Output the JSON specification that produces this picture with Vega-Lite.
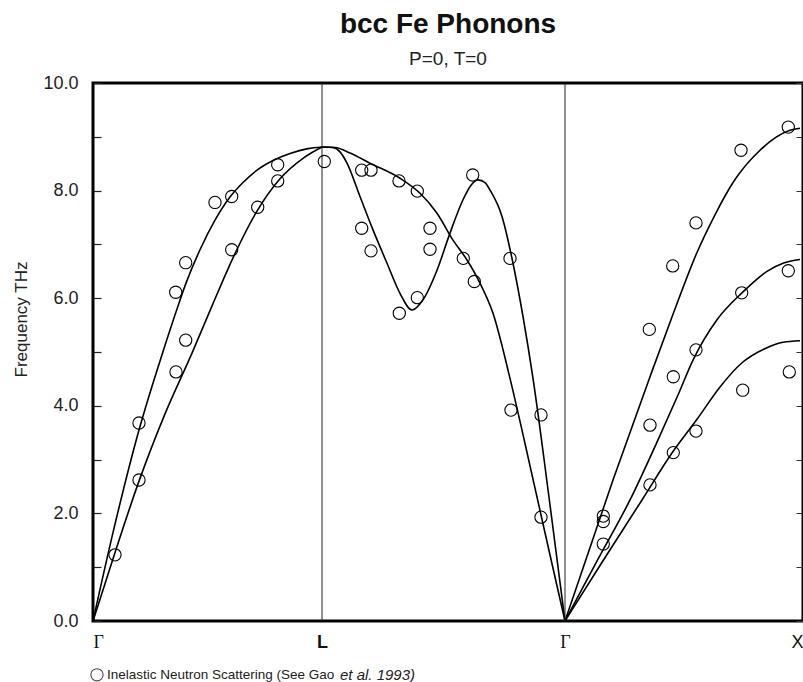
{
  "$schema": "https://vega.github.io/schema/vega-lite/v6.json",
  "width": 710,
  "height": 538,
  "autosize": {"type": "none"},
  "padding": {"left": 93, "top": 83, "right": 0, "bottom": 61},
  "background": "white",
  "config": {"view": {"stroke": "black", "strokeWidth": 3}, "font": "Liberation Sans"},
  "title": {
    "text": "bcc Fe Phonons",
    "subtitle": "P=0, T=0",
    "anchor": "middle",
    "frame": "group",
    "font": "Liberation Sans",
    "fontSize": 28,
    "fontWeight": "bold",
    "color": "#111",
    "subtitleFont": "Liberation Sans",
    "subtitleFontSize": 19,
    "subtitleColor": "#222",
    "subtitlePadding": 11,
    "offset": 5
  },
  "datasets": {
    "curves": [
      {"branch": "GL-T", "k": 0, "freq": 0}, {"branch": "GL-T", "k": 22, "freq": 1.8}, {"branch": "GL-T", "k": 46, "freq": 3.55}, {"branch": "GL-T", "k": 69, "freq": 4.95}, {"branch": "GL-T", "k": 84, "freq": 5.8}, {"branch": "GL-T", "k": 93, "freq": 6.28}, {"branch": "GL-T", "k": 107, "freq": 6.9}, {"branch": "GL-T", "k": 122, "freq": 7.45}, {"branch": "GL-T", "k": 137, "freq": 7.88}, {"branch": "GL-T", "k": 150, "freq": 8.15}, {"branch": "GL-T", "k": 164, "freq": 8.38}, {"branch": "GL-T", "k": 180, "freq": 8.56}, {"branch": "GL-T", "k": 197, "freq": 8.69}, {"branch": "GL-T", "k": 215, "freq": 8.78}, {"branch": "GL-T", "k": 229, "freq": 8.81},
      {"branch": "GL-L", "k": 0, "freq": 0}, {"branch": "GL-L", "k": 23, "freq": 1.33}, {"branch": "GL-L", "k": 46, "freq": 2.6}, {"branch": "GL-L", "k": 72, "freq": 3.85}, {"branch": "GL-L", "k": 99, "freq": 4.98}, {"branch": "GL-L", "k": 120, "freq": 5.9}, {"branch": "GL-L", "k": 140, "freq": 6.75}, {"branch": "GL-L", "k": 164, "freq": 7.62}, {"branch": "GL-L", "k": 187, "freq": 8.22}, {"branch": "GL-L", "k": 210, "freq": 8.6}, {"branch": "GL-L", "k": 229, "freq": 8.81},
      {"branch": "LG-A", "k": 229, "freq": 8.81}, {"branch": "LG-A", "k": 242, "freq": 8.8}, {"branch": "LG-A", "k": 257, "freq": 8.7}, {"branch": "LG-A", "k": 277, "freq": 8.51}, {"branch": "LG-A", "k": 307, "freq": 8.23}, {"branch": "LG-A", "k": 327, "freq": 7.95}, {"branch": "LG-A", "k": 344, "freq": 7.58}, {"branch": "LG-A", "k": 360, "freq": 7.08}, {"branch": "LG-A", "k": 374, "freq": 6.71}, {"branch": "LG-A", "k": 387, "freq": 6.28}, {"branch": "LG-A", "k": 400, "freq": 5.72}, {"branch": "LG-A", "k": 417, "freq": 4.51}, {"branch": "LG-A", "k": 432, "freq": 3.3}, {"branch": "LG-A", "k": 448, "freq": 1.97}, {"branch": "LG-A", "k": 460, "freq": 0.98}, {"branch": "LG-A", "k": 472, "freq": 0},
      {"branch": "LG-B", "k": 229, "freq": 8.81}, {"branch": "LG-B", "k": 240, "freq": 8.8}, {"branch": "LG-B", "k": 247, "freq": 8.72}, {"branch": "LG-B", "k": 254, "freq": 8.51}, {"branch": "LG-B", "k": 267, "freq": 7.89}, {"branch": "LG-B", "k": 280, "freq": 7.27}, {"branch": "LG-B", "k": 294, "freq": 6.65}, {"branch": "LG-B", "k": 307, "freq": 6.09}, {"branch": "LG-B", "k": 319, "freq": 5.78}, {"branch": "LG-B", "k": 330, "freq": 5.97}, {"branch": "LG-B", "k": 344, "freq": 6.52}, {"branch": "LG-B", "k": 357, "freq": 7.21}, {"branch": "LG-B", "k": 370, "freq": 7.83}, {"branch": "LG-B", "k": 378, "freq": 8.1}, {"branch": "LG-B", "k": 385, "freq": 8.2}, {"branch": "LG-B", "k": 392, "freq": 8.15}, {"branch": "LG-B", "k": 397, "freq": 8.01}, {"branch": "LG-B", "k": 409, "freq": 7.52}, {"branch": "LG-B", "k": 420, "freq": 6.65}, {"branch": "LG-B", "k": 430, "freq": 5.66}, {"branch": "LG-B", "k": 440, "freq": 4.51}, {"branch": "LG-B", "k": 456, "freq": 2.3}, {"branch": "LG-B", "k": 472, "freq": 0},
      {"branch": "GX-1", "k": 472, "freq": 0}, {"branch": "GX-1", "k": 520, "freq": 2.62}, {"branch": "GX-1", "k": 557, "freq": 4.54}, {"branch": "GX-1", "k": 580, "freq": 5.7}, {"branch": "GX-1", "k": 604, "freq": 6.85}, {"branch": "GX-1", "k": 622, "freq": 7.55}, {"branch": "GX-1", "k": 640, "freq": 8.15}, {"branch": "GX-1", "k": 667, "freq": 8.75}, {"branch": "GX-1", "k": 697, "freq": 9.12}, {"branch": "GX-1", "k": 707, "freq": 9.16},
      {"branch": "GX-2", "k": 472, "freq": 0}, {"branch": "GX-2", "k": 505, "freq": 1.15}, {"branch": "GX-2", "k": 537, "freq": 2.25}, {"branch": "GX-2", "k": 567, "freq": 3.45}, {"branch": "GX-2", "k": 585, "freq": 4.2}, {"branch": "GX-2", "k": 600, "freq": 4.85}, {"branch": "GX-2", "k": 624, "freq": 5.6}, {"branch": "GX-2", "k": 649, "freq": 6.1}, {"branch": "GX-2", "k": 674, "freq": 6.5}, {"branch": "GX-2", "k": 690, "freq": 6.65}, {"branch": "GX-2", "k": 707, "freq": 6.72},
      {"branch": "GX-3", "k": 472, "freq": 0}, {"branch": "GX-3", "k": 510, "freq": 1.12}, {"branch": "GX-3", "k": 549, "freq": 2.25}, {"branch": "GX-3", "k": 580, "freq": 3.15}, {"branch": "GX-3", "k": 604, "freq": 3.75}, {"branch": "GX-3", "k": 627, "freq": 4.35}, {"branch": "GX-3", "k": 649, "freq": 4.8}, {"branch": "GX-3", "k": 674, "freq": 5.08}, {"branch": "GX-3", "k": 690, "freq": 5.18}, {"branch": "GX-3", "k": 707, "freq": 5.21}
    ],
    "dots": [
      {"k": 22, "freq": 1.23}, {"k": 46, "freq": 3.68}, {"k": 46, "freq": 2.62}, {"k": 83, "freq": 4.63}, {"k": 82.7, "freq": 6.11}, {"k": 92.7, "freq": 6.66}, {"k": 92.7, "freq": 5.22}, {"k": 122, "freq": 7.78}, {"k": 138.7, "freq": 7.89}, {"k": 138.7, "freq": 6.9}, {"k": 164.7, "freq": 7.69}, {"k": 184.7, "freq": 8.48}, {"k": 184.7, "freq": 8.18}, {"k": 231.3, "freq": 8.54},
      {"k": 268.7, "freq": 8.38}, {"k": 278, "freq": 8.38}, {"k": 306, "freq": 8.18}, {"k": 324.3, "freq": 7.99}, {"k": 268.7, "freq": 7.3}, {"k": 278, "freq": 6.88}, {"k": 337, "freq": 7.3}, {"k": 337, "freq": 6.91}, {"k": 379.7, "freq": 8.29}, {"k": 370.3, "freq": 6.74}, {"k": 417, "freq": 6.74}, {"k": 381.3, "freq": 6.31}, {"k": 324.3, "freq": 6.01}, {"k": 306.3, "freq": 5.72}, {"k": 418, "freq": 3.92}, {"k": 448, "freq": 3.83}, {"k": 448, "freq": 1.93},
      {"k": 510.3, "freq": 1.95}, {"k": 510.3, "freq": 1.85}, {"k": 510.3, "freq": 1.43}, {"k": 557, "freq": 2.53}, {"k": 556.3, "freq": 5.42}, {"k": 557, "freq": 3.64}, {"k": 580.3, "freq": 3.13}, {"k": 579.7, "freq": 6.6}, {"k": 580.3, "freq": 4.54}, {"k": 603, "freq": 7.4}, {"k": 603, "freq": 5.04}, {"k": 603, "freq": 3.53}, {"k": 648, "freq": 8.75}, {"k": 648.7, "freq": 6.1}, {"k": 649.7, "freq": 4.29}, {"k": 695.3, "freq": 9.18}, {"k": 695.3, "freq": 6.51}, {"k": 696.3, "freq": 4.63}
    ]
  },
  "layer": [
    {
      "data": {"name": "curves"},
      "mark": {"type": "line", "color": "black", "strokeWidth": 1.6, "interpolate": "monotone"},
      "encoding": {
        "x": {
          "field": "k", "type": "quantitative",
          "scale": {"domain": [0, 710], "nice": false, "zero": false},
          "axis": {
            "orient": "bottom",
            "values": [0, 229, 472, 704],
            "labelExpr": "datum.value == 229 ? 'L' : (datum.value == 704 ? 'X' : 'Γ')",
            "labelFont": {"condition": {"test": "datum.value == 0 || datum.value == 472", "value": "Liberation Serif"}, "value": "Liberation Sans"},
            "labelFontWeight": {"condition": {"test": "datum.value == 229", "value": "bold"}, "value": "normal"},
            "labelAlign": {"condition": {"test": "datum.value == 0", "value": "left"}, "value": "center"},
            "labelFontSize": 18,
            "labelColor": "#111",
            "labelPadding": 12,
            "labelBaseline": "top",
            "labelFlush": false,
            "labelOverlap": false,
            "tickSize": 0,
            "ticks": false,
            "domain": false,
            "grid": false,
            "title": null
          }
        },
        "y": {
          "field": "freq", "type": "quantitative",
          "scale": {"domain": [0, 10], "nice": false},
          "axis": {
            "orient": "left",
            "values": [0, 1, 2, 3, 4, 5, 6, 7, 8, 9, 10],
            "labelExpr": "datum.value % 2 == 0 ? format(datum.value, '.1f') : ''",
            "labelFontSize": 18,
            "labelColor": "#222",
            "labelPadding": 23,
            "tickSize": -8,
            "tickColor": "#222",
            "tickWidth": 1.2,
            "domain": false,
            "grid": false,
            "title": "Frequency THz",
            "titleFontSize": 17,
            "titleFontWeight": "normal",
            "titleColor": "#222",
            "titleX": -72,
            "titleY": 236,
            "titleAngle": -90,
            "titleAlign": "center",
            "titleBaseline": "middle"
          }
        },
        "detail": {"field": "branch"}
      }
    },
    {
      "data": {"values": [{"point": "L", "k": 229}, {"point": "Γ", "k": 472}]},
      "mark": {"type": "rule", "color": "#222", "strokeWidth": 1},
      "encoding": {"x": {"field": "k", "type": "quantitative"}}
    },
    {
      "data": {"name": "dots"},
      "mark": {"type": "point", "shape": "circle", "filled": false, "size": 150, "stroke": "black", "strokeWidth": 1.1, "opacity": 1},
      "encoding": {
        "x": {"field": "k", "type": "quantitative"},
        "y": {"field": "freq", "type": "quantitative", "axis": {
          "orient": "right",
          "values": [0, 1, 2, 3, 4, 5, 6, 7, 8, 9, 10],
          "labels": false,
          "tickSize": -7,
          "tickColor": "#333",
          "domain": false,
          "grid": false,
          "title": null
        }}
      }
    },
    {
      "data": {"values": [{"legend": "Inelastic Neutron Scattering"}]},
      "mark": {"type": "point", "shape": "circle", "filled": false, "size": 150, "stroke": "black", "strokeWidth": 1.1},
      "encoding": {"x": {"datum": 4, "type": "quantitative"}, "y": {"datum": -1.0, "type": "quantitative", "axis": null}}
    },
    {
      "data": {"values": [{"legend": "Inelastic Neutron Scattering (See Gao"}]},
      "mark": {"type": "text", "align": "left", "baseline": "middle", "fontSize": 13.5, "color": "#222"},
      "encoding": {"x": {"datum": 14, "type": "quantitative"}, "y": {"datum": -1.0, "type": "quantitative", "axis": null}, "text": {"field": "legend"}}
    },
    {
      "data": {"values": [{"legend": "et al. 1993)"}]},
      "mark": {"type": "text", "align": "left", "baseline": "middle", "fontSize": 15, "fontStyle": "italic", "color": "#222"},
      "encoding": {"x": {"datum": 247, "type": "quantitative"}, "y": {"datum": -1.0, "type": "quantitative", "axis": null}, "text": {"field": "legend"}}
    }
  ],
  "resolve": {"axis": {"y": "independent"}}
}
